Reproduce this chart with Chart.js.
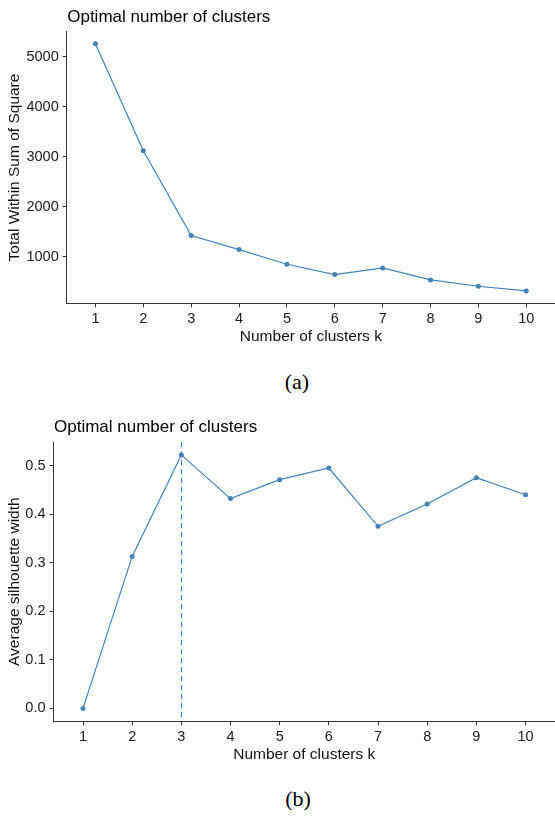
<!DOCTYPE html>
<html lang="en">
  <head>
    <meta charset="UTF-8" />
    <title>Optimal number of clusters</title>
    <script src="https://cdn.jsdelivr.net/npm/chart.js"></script>
    <style>
      body { margin: 0; background: #fff; width: 555px; height: 816px; overflow: hidden; position: relative; }
      canvas { position: absolute; left: 0; }
      #elbowChart { top: 0; }
      #silChart { top: 400px; }
      .caption {
        position: absolute; width: 60px; text-align: center;
        font-family: "Liberation Serif", "DejaVu Serif", serif;
        font-size: 22px; line-height: 22px; color: #000;
      }
    </style>
  </head>
  <body>
    <canvas id="elbowChart" width="559" height="360"></canvas>
    <div class="caption" style="left: 267px; top: 371px">(a)</div>
    <canvas id="silChart" width="559" height="370"></canvas>
    <div class="caption" style="left: 268px; top: 788px">(b)</div>
    <script>
      // number of clusters k
      const clusterK = [1, 2, 3, 4, 5, 6, 7, 8, 9, 10];
      // (a) total within sum of square
      const wssValues = [5260, 3120, 1426, 1146, 854, 646, 780, 540, 414, 320];
      const wssTicks = [1000, 2000, 3000, 4000, 5000];
      // (b) average silhouette width
      const silValues = [0.0, 0.313, 0.522, 0.432, 0.471, 0.495, 0.375, 0.421, 0.475, 0.44];
      const silTicks = [0.0, 0.1, 0.2, 0.3, 0.4, 0.5];
      const optimalK = 3;

      const lineColor = "#4682B4";
      const axisColor = "#333";
      const fontFamily = "'Liberation Sans', Arial, sans-serif";

      // title drawn flush with the left edge of the plot panel
      const plotTitle = {
        id: "plotTitle",
        afterDraw(chart, args, opts) {
          const { ctx, chartArea } = chart;
          ctx.save();
          ctx.font = "17px " + fontFamily;
          ctx.fillStyle = "#000";
          ctx.textBaseline = "alphabetic";
          ctx.textAlign = "left";
          ctx.fillText(opts.text, chartArea.left + 0.5, chartArea.top - 10);
          ctx.restore();
        },
      };

      // dashed vertical line at the optimal k
      const optimalLine = {
        id: "optimalLine",
        afterDatasetsDraw(chart, args, opts) {
          const { ctx, chartArea } = chart;
          const x = Math.round(chart.scales.x.getPixelForValue(opts.k)) + 0.5;
          ctx.save();
          ctx.strokeStyle = "#3f7fc0";
          ctx.lineWidth = 1.2;
          ctx.setLineDash([5, 4]);
          ctx.beginPath();
          ctx.moveTo(x, chartArea.top);
          ctx.lineTo(x, chartArea.bottom);
          ctx.stroke();
          ctx.restore();
        },
      };

      function buildScales(o) {
        return {
          x: {
            type: "linear",
            min: 0.4,
            max: 10.6,
            afterBuildTicks: (s) => { s.ticks = clusterK.map((v) => ({ value: v })); },
            afterFit: (s) => { s.height = o.xHeight; },
            grid: { drawOnChartArea: false, drawTicks: true, tickLength: 4, color: axisColor, lineWidth: 1 },
            border: { display: true, color: axisColor, width: 1 },
            ticks: { color: "#1a1a1a", font: { family: fontFamily, size: 14.5 }, padding: 3, maxRotation: 0, autoSkip: false },
            title: {
              display: true,
              text: "Number of clusters k",
              color: "#111",
              font: { family: fontFamily, size: 15.5, lineHeight: 1 },
              padding: { top: 0, bottom: o.xTitlePad },
            },
          },
          y: {
            type: "linear",
            min: o.yMin,
            max: o.yMax,
            afterBuildTicks: (s) => { s.ticks = o.yTicks.map((v) => ({ value: v })); },
            afterFit: (s) => { s.width = o.yWidth; },
            grid: { drawOnChartArea: false, drawTicks: true, tickLength: 4, color: axisColor, lineWidth: 1 },
            border: { display: true, color: axisColor, width: 1 },
            ticks: { color: "#1a1a1a", font: { family: fontFamily, size: 14.5 }, padding: 4, callback: o.fmt },
            title: {
              display: true,
              text: o.yLabel,
              color: "#111",
              font: { family: fontFamily, size: 15.5, lineHeight: 1 },
              padding: { top: 6.5, bottom: 0 },
            },
          },
        };
      }

      function dataset(values) {
        return {
          data: clusterK.map((k, i) => ({ x: k, y: values[i] })),
          borderColor: lineColor,
          backgroundColor: lineColor,
          borderWidth: 1.2,
          pointRadius: 2.5,
          pointBorderWidth: 0,
          pointBackgroundColor: lineColor,
          tension: 0,
        };
      }

      new Chart(document.getElementById("elbowChart"), {
        type: "line",
        data: { datasets: [dataset(wssValues)] },
        plugins: [plotTitle],
        options: {
          responsive: false,
          animation: false,
          devicePixelRatio: 1,
          layout: { padding: { top: 31.7, left: 0, right: 0, bottom: 0 } },
          plugins: {
            legend: { display: false },
            tooltip: { enabled: false },
            plotTitle: { text: "Optimal number of clusters" },
          },
          scales: buildScales({
            xHeight: 56.7,
            xTitlePad: 15.35,
            yWidth: 66.7,
            yMin: 73,
            yMax: 5500,
            yTicks: wssTicks,
            yLabel: "Total Within Sum of Square",
            fmt: (v) => String(v),
          }),
        },
      });

      new Chart(document.getElementById("silChart"), {
        type: "line",
        data: { datasets: [dataset(silValues)] },
        plugins: [plotTitle, optimalLine],
        options: {
          responsive: false,
          animation: false,
          devicePixelRatio: 1,
          layout: { padding: { top: 42.3, left: 0, right: 0, bottom: 0 } },
          plugins: {
            legend: { display: false },
            tooltip: { enabled: false },
            plotTitle: { text: "Optimal number of clusters" },
            optimalLine: { k: optimalK },
          },
          scales: buildScales({
            xHeight: 49,
            xTitlePad: 7.35,
            yWidth: 53.5,
            yMin: -0.026,
            yMax: 0.548,
            yTicks: silTicks,
            yLabel: "Average silhouette width",
            fmt: (v) => v.toFixed(1),
          }),
        },
      });
    </script>
  </body>
</html>
